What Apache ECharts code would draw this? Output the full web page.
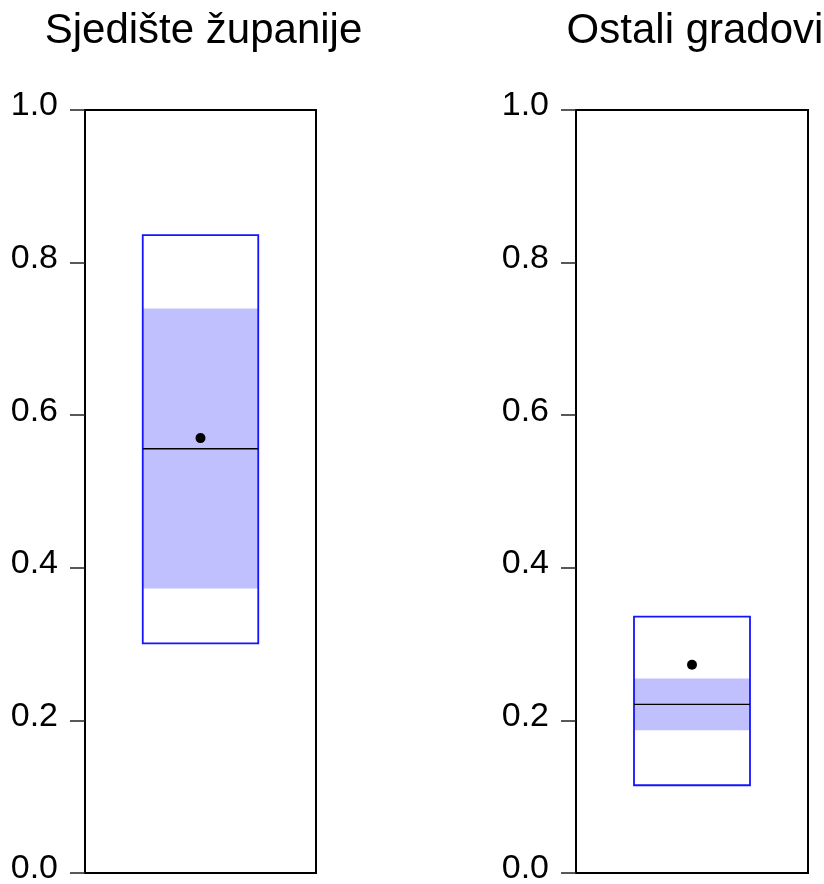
<!DOCTYPE html>
<html>
<head>
<meta charset="utf-8">
<script src="https://cdn.jsdelivr.net/npm/echarts@6/dist/echarts.min.js"></script>
<style>
html,body{margin:0;padding:0;background:#fff;}
#chart{width:824px;height:884px;}
</style>
</head>
<body>
<div id="chart"></div>
<script>
// ---- data ----
var categories = ["Sjedište županije", "Ostali gradovi"];
var outerLow  = [0.301, 0.115];
var outerHigh = [0.836, 0.336];
var boxLow    = [0.373, 0.187];
var boxHigh   = [0.740, 0.255];
var medians   = [0.556, 0.221];
var means     = [0.570, 0.273];
var yTickValues = [0.0, 0.2, 0.4, 0.6, 0.8, 1.0];

var chart = echarts.init(document.getElementById('chart'), null, {renderer: 'canvas'});
var FONT = '"Liberation Sans", Arial, sans-serif';

var gridLefts = [85, 576];
var gridWidths = [231, 232];

function renderItem(params, api) {
  var xc = api.value(0), hw = 0.25;
  var lo = api.value(1), q1 = api.value(2), med = api.value(3), q3 = api.value(4), hi = api.value(5), mn = api.value(6);
  var pLoL = api.coord([xc - hw, lo]), pHiR = api.coord([xc + hw, hi]);
  var pQ1L = api.coord([xc - hw, q1]), pQ3R = api.coord([xc + hw, q3]);
  var pMedL = api.coord([xc - hw, med]), pMedR = api.coord([xc + hw, med]);
  var pMean = api.coord([xc, mn]);
  return {
    type: 'group',
    children: [
      {type: 'rect', shape: {x: pQ1L[0], y: pQ3R[1], width: pQ3R[0] - pQ1L[0], height: pQ1L[1] - pQ3R[1]},
       style: {fill: '#c0c0ff', stroke: null}},
      {type: 'rect', shape: {x: pLoL[0], y: pHiR[1], width: pHiR[0] - pLoL[0], height: pLoL[1] - pHiR[1]},
       style: {fill: null, stroke: '#1414ff', lineWidth: 1.8}},
      {type: 'line', shape: {x1: pMedL[0], y1: pMedL[1], x2: pMedR[0], y2: pMedR[1]},
       style: {stroke: '#000', lineWidth: 1.3}},
      {type: 'circle', shape: {cx: pMean[0], cy: pMean[1], r: 5}, style: {fill: '#000'}}
    ]
  };
}

var grids = [], xAxes = [], yAxes = [], series = [], titles = [];
for (var i = 0; i < categories.length; i++) {
  grids.push({left: gridLefts[i], width: gridWidths[i], top: 110, height: 763,
    containLabel: false, outerBoundsMode: 'none',
    show: true, borderColor: '#000', borderWidth: 2, backgroundColor: 'transparent'});
  xAxes.push({type: 'value', gridIndex: i, min: 0, max: 1, show: false});
  yAxes.push({type: 'value', gridIndex: i, min: 0, max: 1, interval: 0.2,
    axisLine: {show: true, lineStyle: {color: '#000', width: 2}},
    axisTick: {show: true, length: 15, lineStyle: {color: '#222', width: 1.5}},
    axisLabel: {show: true, margin: 27, fontSize: 34, color: '#000', fontFamily: FONT,
      lineHeight: 8, verticalAlign: 'bottom',
      formatter: function (v) { return v.toFixed(1); }},
    splitLine: {show: false}});
  series.push({type: 'custom', xAxisIndex: i, yAxisIndex: i, renderItem: renderItem,
    encode: {x: 0, y: [1, 2, 3, 4, 5, 6]},
    data: [[0.5, outerLow[i], boxLow[i], medians[i], boxHigh[i], outerHigh[i], means[i]]],
    silent: true, animation: false});
  titles.push({text: categories[i], left: gridLefts[i] + gridWidths[i] / 2 - 2, top: 5,
    textAlign: 'center',
    textStyle: {fontSize: 42, fontWeight: 'normal', color: '#000', fontFamily: FONT}});
}

chart.setOption({
  animation: false,
  backgroundColor: '#fff',
  title: titles,
  grid: grids,
  xAxis: xAxes,
  yAxis: yAxes,
  series: series
});
</script>
</body>
</html>
